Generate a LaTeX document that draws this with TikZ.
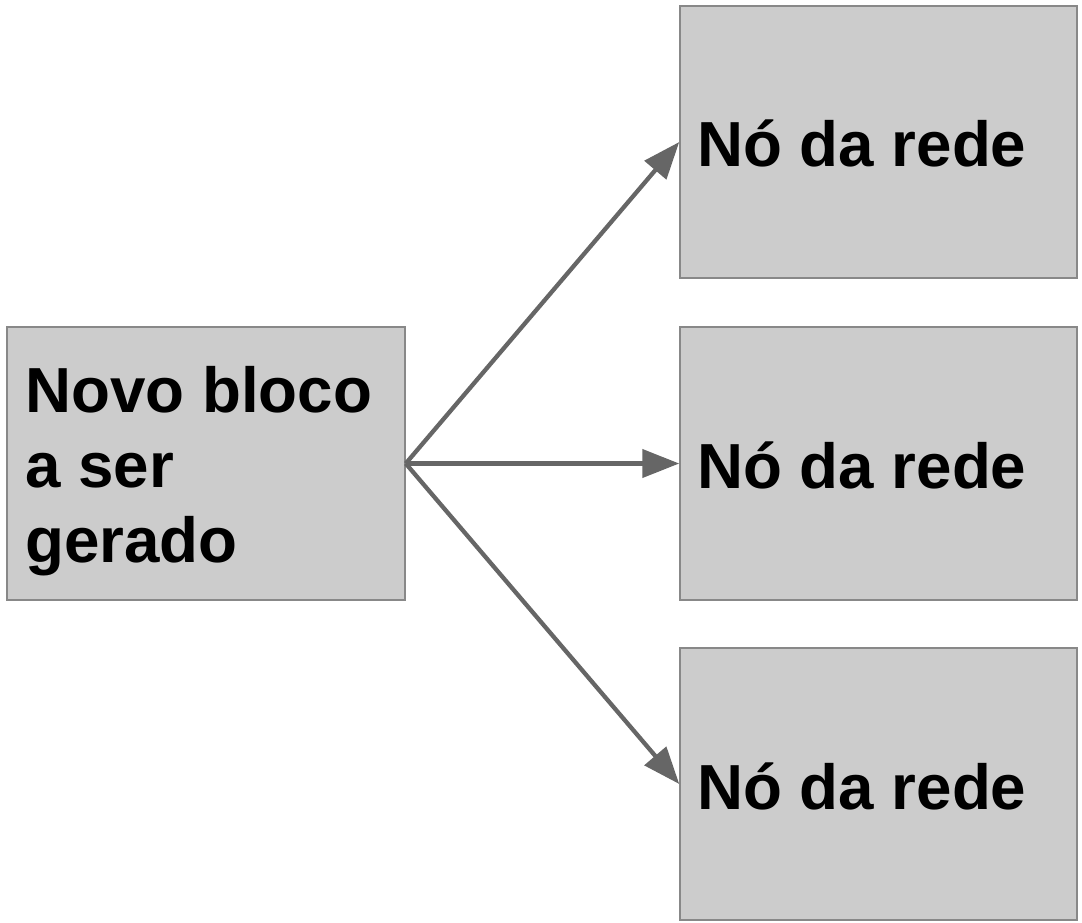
\documentclass[tikz,border=0pt]{standalone}
\usepackage{fontspec}
\setmainfont{Liberation Sans}
\usetikzlibrary{arrows.meta}
\definecolor{boxfill}{HTML}{CCCCCC}
\definecolor{boxline}{HTML}{888888}
\definecolor{arrowcol}{HTML}{666666}
\tikzset{
  blockbox/.style={draw=boxline, line width=1.5pt, fill=boxfill, rectangle, inner sep=0pt, minimum width=398pt, minimum height=273pt},
  blocktext/.style={anchor=base west, inner sep=0pt, font=\fontsize{63.7}{75}\selectfont\bfseries, align=left},
  conn/.style={draw=arrowcol, line width=4.3pt, -{Triangle[length=37pt,width=28pt]}}
}
\begin{document}
\begin{tikzpicture}[x=1pt,y=-1pt]
\useasboundingbox (0,0) rectangle (1082,922);
\node[blockbox] (src) at (206,463.5) {};
\node[blockbox, minimum width=397pt, minimum height=272pt] (n1) at (878.5,142) {};
\node[blockbox, minimum width=397pt, minimum height=273pt] (n2) at (878.5,463.5) {};
\node[blockbox, minimum width=397pt, minimum height=272pt] (n3) at (878.5,784) {};
\node[blocktext] (srct) at (25,412) {Novo bloco};
\node[blocktext] (srct2) at (25,487) {a ser};
\node[blocktext] (srct3) at (25,562) {gerado};
\node[blocktext] (t1) at (697,166) {Nó da rede};
\node[blocktext] (t2) at (697,488) {Nó da rede};
\node[blocktext] (t3) at (697,809) {Nó da rede};
\draw[conn] (src.east) -- (n1.west);
\draw[conn] (src.east) -- (n2.west);
\draw[conn] (src.east) -- (n3.west);
\end{tikzpicture}
\end{document}
